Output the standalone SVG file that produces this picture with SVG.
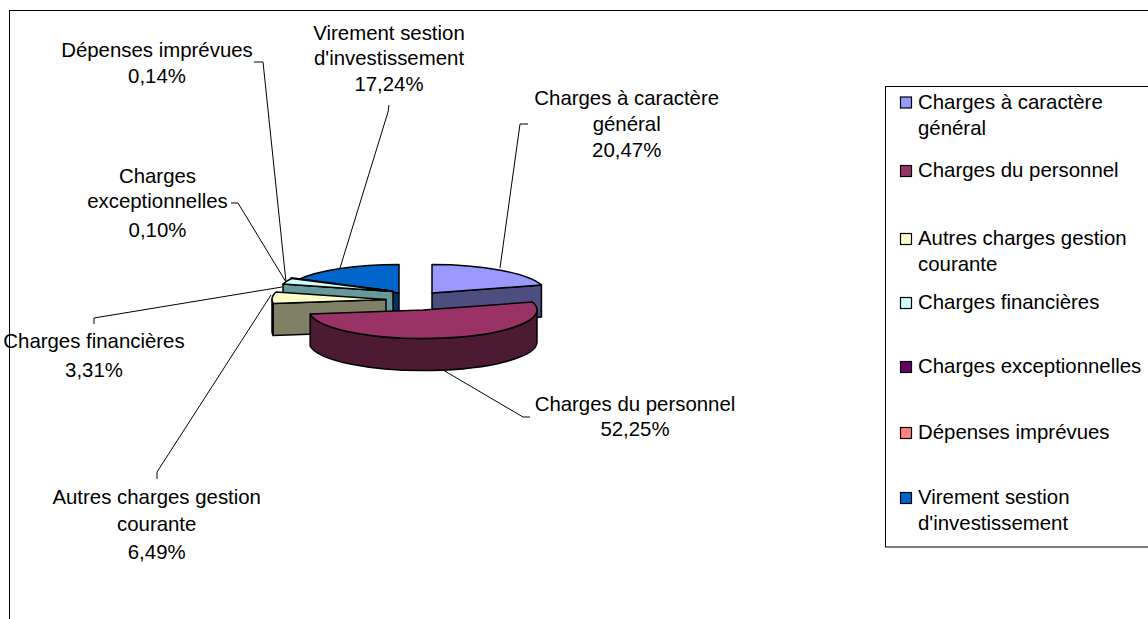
<svg xmlns="http://www.w3.org/2000/svg" width="1148" height="619" viewBox="0 0 1148 619">
<style>
  text { font-family: "Liberation Sans", Arial, sans-serif; font-size: 20.4px; fill: #000; }
  .lbl { text-anchor: middle; }
  .lead { fill: none; stroke: #000; stroke-width: 1; }
  .face { stroke: #000; stroke-width: 1.5; stroke-linejoin: round; }
  .sq { stroke: #000; stroke-width: 1.2; }
</style>
<rect x="0" y="0" width="1148" height="619" fill="#fff"/>
<rect x="9.5" y="10.5" width="1200" height="700" fill="none" stroke="#000" stroke-width="1"/>

<g id="slice-virement">
  <path class="face" fill="#003366" d="M298.3,279.65 L399,293 L399,325 L298.3,311.65 Z"/>
  <path class="face" fill="#0066cc" d="M399,293 L399,264.5 A114,28.5 0 0 0 298.3,279.65 Z"/>
</g>
<g id="slice-depenses">
  <path class="face" fill="#804040" d="M290.5,279.6 L392,291 L392,323 L290.5,311.6 Z"/>
  <path class="face" fill="#ff8080" d="M392,291 L291.3,277.7 A114,28.5 0 0 0 290.5,279.6 Z"/>
</g>
<g id="slice-exceptionnelles">
  <path class="face" fill="#330033" d="M290.5,279.9 L392.5,291.3 L392.5,323.3 L290.5,311.9 Z"/>
  <path class="face" fill="#660066" d="M392.5,291.3 L291,278.6 A114,28.5 0 0 0 290.5,279.9 Z"/>
</g>
<g id="slice-financieres">
  <path class="face" fill="#669999" d="M283,284 L393,291.5 L393,323.5 L283,316 Z"/>
  <path class="face" fill="#ccffff" d="M393,291.5 L291.5,278.5 A114,28.5 0 0 0 283,284 Z"/>
</g>
<g id="slice-autres">
  <path class="face" fill="#808066" d="M272,299.5 A114,28.5 0 0 0 273.17,303.56 L273.17,335.56 A114,28.5 0 0 1 272,331.5 Z"/>
  <path class="face" fill="#808066" d="M273.17,303.56 L386,299.5 L386,331.5 L273.17,335.56 Z"/>
  <path class="face" fill="#ffffcc" d="M386,299.5 L276,292.05 A114,28.5 0 0 0 273.17,303.56 Z"/>
</g>
<g id="slice-general">
  <path class="face" fill="#4d4d80" d="M432,293 L541.42,285 L541.42,317 L432,325 Z"/>
  <path class="face" fill="#9999ff" d="M432,293 L432,264.5 A114,28.5 0 0 1 541.42,285 Z"/>
</g>
<g id="slice-personnel">
  <path class="face" fill="#4d1a33" d="M537,310 A114,28.5 0 0 1 310.17,314.06 L310.17,346.06 A114,28.5 0 0 0 537,342 Z"/>
  <path class="face" fill="#993366" d="M423,310 L532.42,302 A114,28.5 0 1 1 310.17,314.06 Z"/>
</g>

<g id="connectors">
  <polyline class="lead" points="254,62 263,62 286,282"/>
  <polyline class="lead" points="389,105 388,112 340,268"/>
  <polyline class="lead" points="528,124 520,124 500,268"/>
  <polyline class="lead" points="231,203 238,203 286,282"/>
  <polyline class="lead" points="94,324 94,318 282,287"/>
  <polyline class="lead" points="157,479 157,472 271,295"/>
  <polyline class="lead" points="443,370 523,417 530,417"/>
</g>

<g id="label-depenses">
  <text class="lbl" x="157" y="57">Dépenses imprévues</text>
  <text class="lbl" x="157" y="82.5">0,14%</text>
</g>
<g id="label-virement">
  <text class="lbl" x="389" y="39.6">Virement sestion</text>
  <text class="lbl" x="389" y="65">d'investissement</text>
  <text class="lbl" x="389" y="91">17,24%</text>
</g>
<g id="label-general">
  <text class="lbl" x="626.7" y="104.6">Charges à caractère</text>
  <text class="lbl" x="626.7" y="131">général</text>
  <text class="lbl" x="626.7" y="156.5">20,47%</text>
</g>
<g id="label-exceptionnelles">
  <text class="lbl" x="157.5" y="182.5">Charges</text>
  <text class="lbl" x="157.5" y="208.3">exceptionnelles</text>
  <text class="lbl" x="157.5" y="236.5">0,10%</text>
</g>
<g id="label-financieres">
  <text class="lbl" x="94" y="348">Charges financières</text>
  <text class="lbl" x="94" y="376.5">3,31%</text>
</g>
<g id="label-autres">
  <text class="lbl" x="156.7" y="504">Autres charges gestion</text>
  <text class="lbl" x="156.7" y="530.5">courante</text>
  <text class="lbl" x="156.7" y="558.5">6,49%</text>
</g>
<g id="label-personnel">
  <text class="lbl" x="635" y="411">Charges du personnel</text>
  <text class="lbl" x="635" y="436">52,25%</text>
</g>

<g id="legend">
  <rect x="885.5" y="86.5" width="300" height="460.5" fill="#fff" stroke="#000" stroke-width="1"/>
  <rect class="sq" x="900.5" y="97" width="11" height="11" fill="#9999ff"/>
  <text x="918" y="108.5">Charges à caractère</text>
  <text x="918" y="134.5">général</text>
  <rect class="sq" x="900.5" y="165.5" width="11" height="11" fill="#993366"/>
  <text x="918" y="177">Charges du personnel</text>
  <rect class="sq" x="900.5" y="233.5" width="11" height="11" fill="#ffffcc"/>
  <text x="918" y="245">Autres charges gestion</text>
  <text x="918" y="270.5">courante</text>
  <rect class="sq" x="900.5" y="297.5" width="11" height="11" fill="#ccffff"/>
  <text x="918" y="309">Charges financières</text>
  <rect class="sq" x="900.5" y="361.5" width="11" height="11" fill="#660066"/>
  <text x="918" y="373">Charges exceptionnelles</text>
  <rect class="sq" x="900.5" y="427.5" width="11" height="11" fill="#ff8080"/>
  <text x="918" y="439">Dépenses imprévues</text>
  <rect class="sq" x="900.5" y="492.5" width="11" height="11" fill="#0066cc"/>
  <text x="918" y="504">Virement sestion</text>
  <text x="918" y="529.5">d'investissement</text>
</g>
</svg>
